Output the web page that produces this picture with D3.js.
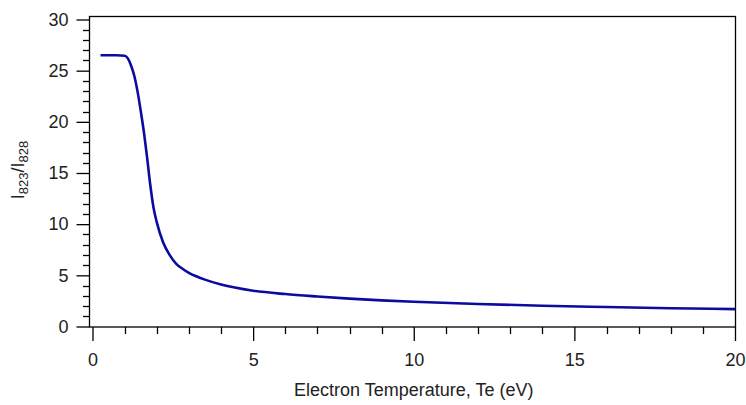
<!DOCTYPE html>
<html>
<head>
<meta charset="utf-8">
<script src="https://cdn.jsdelivr.net/npm/d3@7"></script>
<style>
  body { margin: 0; background: #fff; }
  svg text { font-family: "Liberation Sans", Arial, sans-serif; fill: #222; }
</style>
</head>
<body>
<div id="chart"></div>
<script>
// electron temperature (eV) and line ratio I823/I828
const te = [0.25, 0.5, 0.75, 1.0, 1.1, 1.2, 1.3, 1.4, 1.5, 1.6, 1.7, 1.8, 1.9, 2.0,
  2.2, 2.4, 2.6, 2.8, 3.0, 3.25, 3.5, 4, 5, 6, 7, 8, 9, 10, 12, 14, 16, 18, 20];
const ratio = [26.5, 26.5, 26.5, 26.45, 26.2, 25.5, 24.5, 23.0, 21.1, 19.0, 16.5, 13.8, 11.6, 10.2,
  8.2, 7.0, 6.15, 5.65, 5.25, 4.88, 4.58, 4.1, 3.5, 3.17, 2.93, 2.72, 2.55, 2.42, 2.2, 2.03, 1.9, 1.79, 1.7];
const xTicks = [0, 5, 10, 15, 20];
const yTicks = [0, 5, 10, 15, 20, 25, 30];

const width = 746, height = 405;
const frame = { left: 89.5, right: 735.5, top: 16.5, bottom: 327 };

const x = d3.scaleLinear().domain([0, 20]).range([92.5, 735]);
const y = d3.scaleLinear().domain([0, 30]).range([326.5, 19.5]);

const svg = d3.select('#chart').append('svg')
  .attr('width', width)
  .attr('height', height);

// minor ticks
const xMinor = d3.range(0, 21, 1).filter(v => v % 5 !== 0);
const yMinor = d3.range(0, 31, 1).filter(v => v % 5 !== 0);

svg.append('g')
  .selectAll('line').data(xMinor).enter().append('line')
  .attr('x1', d => Math.round(x(d)) + 0.5).attr('x2', d => Math.round(x(d)) + 0.5)
  .attr('y1', frame.bottom).attr('y2', frame.bottom + 7)
  .attr('stroke', '#000').attr('stroke-width', 1.3);

svg.append('g')
  .selectAll('line').data(yMinor).enter().append('line')
  .attr('y1', d => Math.round(y(d)) + 0.5).attr('y2', d => Math.round(y(d)) + 0.5)
  .attr('x1', frame.left - 6.5).attr('x2', frame.left)
  .attr('stroke', '#000').attr('stroke-width', 1.3);

// major axes
const xAxis = svg.append('g')
  .attr('transform', 'translate(0,' + frame.bottom + ')')
  .call(d3.axisBottom(x).tickValues(xTicks).tickSize(14).tickSizeOuter(0).tickPadding(12).tickFormat(d3.format('d')));
xAxis.select('.domain').remove();
xAxis.selectAll('line').attr('stroke-width', 1.3);
xAxis.selectAll('text').attr('font-size', 18).attr('font-family', null).style('fill', '#222');

const yAxis = svg.append('g')
  .attr('transform', 'translate(' + frame.left + ',0)')
  .call(d3.axisLeft(y).tickValues(yTicks).tickSize(13).tickSizeOuter(0).tickPadding(8).tickFormat(d3.format('d')));
yAxis.select('.domain').remove();
yAxis.selectAll('line').attr('stroke-width', 1.3);
yAxis.selectAll('text').attr('font-size', 18).attr('font-family', null).style('fill', '#222');

// frame box
svg.append('rect')
  .attr('x', frame.left).attr('y', frame.top)
  .attr('width', frame.right - frame.left).attr('height', frame.bottom - frame.top)
  .attr('fill', 'none').attr('stroke', '#000').attr('stroke-width', 1.3);

// curve
const line = d3.line()
  .x((d, i) => x(te[i]))
  .y((d, i) => y(ratio[i]))
  .curve(d3.curveMonotoneX);

svg.append('path')
  .datum(ratio)
  .attr('d', line)
  .attr('fill', 'none')
  .attr('stroke', '#0b0ba0')
  .attr('stroke-width', 2.6);

// axis titles
svg.append('text')
  .attr('x', (x(0) + x(20)) / 2)
  .attr('y', 396)
  .attr('text-anchor', 'middle')
  .attr('font-size', 18)
  .text('Electron Temperature, Te (eV)');

const yt = svg.append('text')
  .attr('transform', 'translate(24,170) rotate(-90)')
  .attr('text-anchor', 'middle')
  .attr('font-size', 18);
yt.append('tspan').text('I');
yt.append('tspan').attr('font-size', 13).attr('dy', 4).text('823');
yt.append('tspan').attr('dy', -4).text('/I');
yt.append('tspan').attr('font-size', 13).attr('dy', 4).text('828');
</script>
</body>
</html>
